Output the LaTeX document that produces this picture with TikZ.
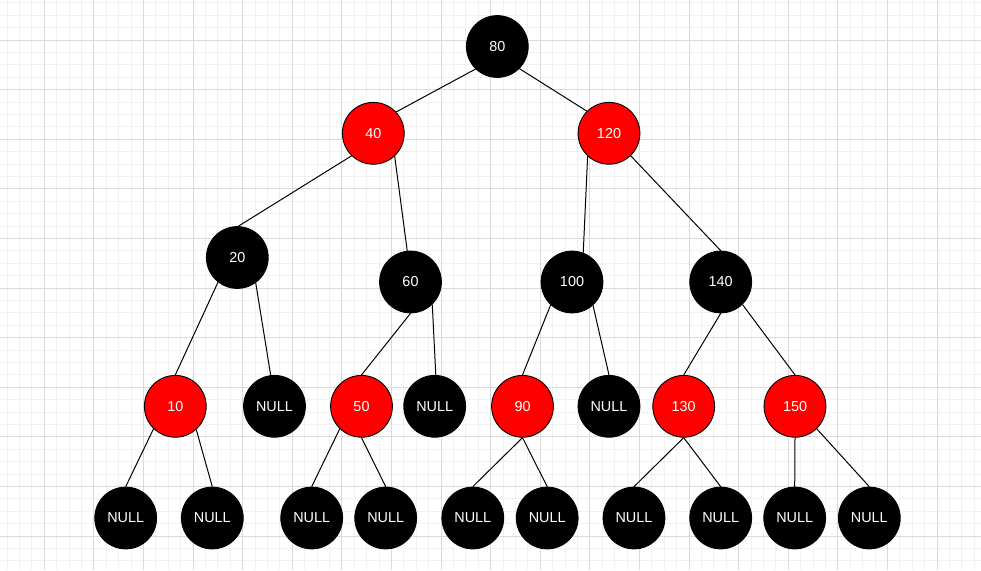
\documentclass[tikz,border=0pt]{standalone}
\usepackage{fontspec}
\setmainfont{Liberation Sans}
\definecolor{gridminor}{HTML}{F1F1F1}
\definecolor{gridmajor}{HTML}{DADADA}
\definecolor{rbred}{HTML}{FF0000}
\begin{document}
\begin{tikzpicture}[x=1pt,y=-1pt,
  rbnode/.style={circle, draw=black, line width=0.9pt, minimum size=61.8pt,
    inner sep=0pt, text=white, font=\fontsize{14.4}{17}\selectfont},
  rednode/.style={rbnode, fill=rbred},
  blknode/.style={rbnode, fill=black},
  link/.style={draw=black, line width=1pt},
  minorgrid/.style={draw=gridminor, line width=0.9pt},
  majorgrid/.style={draw=gridmajor, line width=0.9pt}]

% canvas
\useasboundingbox (0,0) rectangle (981,570);
\fill[white] (0,0) rectangle (981,570);

% background grid: fine lines every 12.4, heavier lines every 49.6
\begin{scope}
  \clip (0,0) rectangle (981,570);
  \foreach \k in {0,...,78} \draw[minorgrid] ({7.1+\k*12.4},0) -- ({7.1+\k*12.4},570);
  \foreach \k in {0,...,45} \draw[minorgrid] (0,{2.8+\k*12.4}) -- (981,{2.8+\k*12.4});
  \foreach \k in {0,...,18} \draw[majorgrid] ({44.3+\k*49.6},0) -- ({44.3+\k*49.6},570);
  \foreach \k in {0,...,10} \draw[majorgrid] (0,{40+\k*49.6}) -- (981,{40+\k*49.6});
\end{scope}

% level 0-1
\node[blknode] (n80)  at (497.3,46.5)  {80};
\node[rednode] (n40)  at (373.3,133.3) {40};
\node[rednode] (n120) at (609,133.3)   {120};

% level 2
\node[blknode] (n20)  at (237.3,257.5) {20};
\node[blknode] (n60)  at (410.5,282)   {60};
\node[blknode] (n100) at (572,282)     {100};
\node[blknode] (n140) at (720.7,282)   {140};

% level 3
\node[rednode] (n10)    at (175.3,406.3) {10};
\node[blknode] (nl20)   at (274.5,406.3) {NULL};
\node[rednode] (n50)    at (361.5,406.3) {50};
\node[blknode] (nl60)   at (434.7,406.3) {NULL};
\node[rednode] (n90)    at (522.5,406.3) {90};
\node[blknode] (nl100)  at (609,406.3)   {NULL};
\node[rednode] (n130)   at (683.7,406.3) {130};
\node[rednode] (n150)   at (795,406.3)   {150};

% level 4: leaves
\node[blknode] (nl10a)  at (125.7,518) {NULL};
\node[blknode] (nl10b)  at (212.3,518) {NULL};
\node[blknode] (nl50a)  at (311.7,518) {NULL};
\node[blknode] (nl50b)  at (385.7,518) {NULL};
\node[blknode] (nl90a)  at (472.8,518) {NULL};
\node[blknode] (nl90b)  at (547.2,518) {NULL};
\node[blknode] (nl130a) at (634,518)   {NULL};
\node[blknode] (nl130b) at (720.7,518) {NULL};
\node[blknode] (nl150a) at (794.7,518) {NULL};
\node[blknode] (nl150b) at (869.3,518) {NULL};

% tree edges, perimeter to perimeter
\foreach \a/\b in {
    n80.226.5/n40.43.6, n80.315/n120.135,
    n40.226.4/n20.88, n40.313.7/n60.96,
    n120.227.2/n100.69.5, n120.314/n140.90,
    n20.232.9/n10.90, n20.306.4/nl20.97,
    n60.270/n50.90, n60.314.7/nl60.88,
    n100.227.4/n90.90, n100.312/nl100.90,
    n140.270/n130.90, n140.314.5/n150.90,
    n10.226.4/nl10a.90, n10.312.9/nl10b.90,
    n50.226.5/nl50a.90, n50.270/nl50b.90,
    n90.270/nl90a.90, n90.270/nl90b.90,
    n130.270/nl130a.90, n130.270/nl130b.90,
    n150.270/nl150a.90, n150.314.5/nl150b.90}
  \draw[link] (\a) -- (\b);

\end{tikzpicture}
\end{document}
